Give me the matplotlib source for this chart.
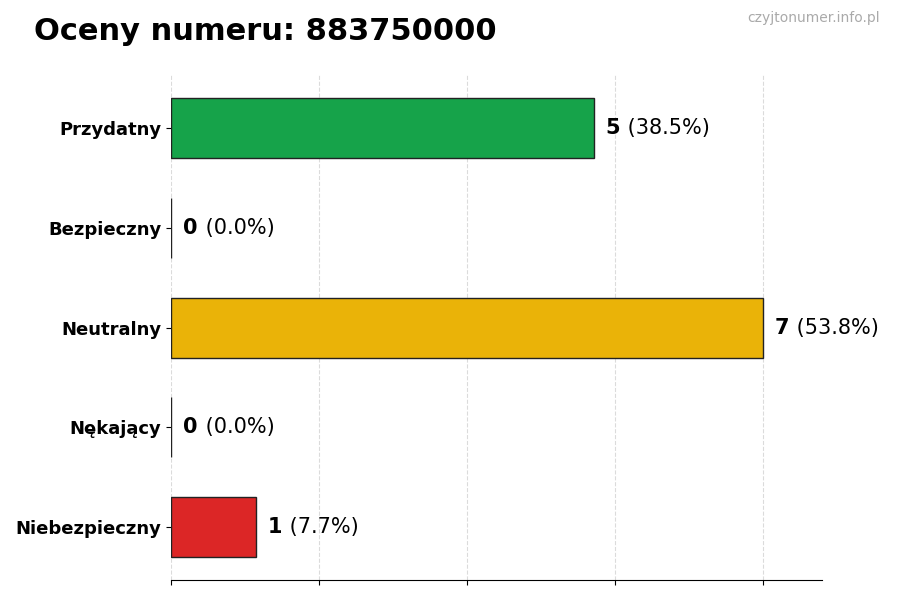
import matplotlib
matplotlib.use("Agg")
import matplotlib.pyplot as plt
import numpy as np

categories = ["Przydatny", "Bezpieczny", "Neutralny", "Nękający", "Niebezpieczny"]
counts = [5, 0, 7, 0, 1]
colors = ["#16a34a", "#2563eb", "#eab308", "#f97316", "#dc2626"]
title = "Oceny numeru: 883750000"
watermark = "czyjtonumer.info.pl"

total = sum(counts)
fig = plt.figure(figsize=(9, 6), dpi=100)
ax = fig.add_axes([0.19, 0.033, 0.723, 0.842])
y = np.arange(len(categories))
ax.barh(y, counts, height=0.6, color=colors, edgecolor="#222222", linewidth=1, zorder=3)
ax.invert_yaxis()
ax.set_yticks(y)
ax.set_yticklabels(categories, fontsize=13, fontweight="bold")
xmax = max(counts) * 1.1
ax.set_xlim(0, xmax)
ax.set_xticks(np.linspace(0, max(counts), 5))
ax.set_xticklabels([])
ax.grid(axis="x", linestyle="--", color="#cccccc", alpha=0.7, linewidth=0.8, zorder=0)
for s in ["top", "right", "left"]:
    ax.spines[s].set_visible(False)

fig.text(0.038, 0.948, title, fontsize=22, fontweight="bold", ha="left", va="center")
fig.text(0.978, 0.97, watermark, fontsize=10, color="#aaaaaa", ha="right", va="center")

fig.canvas.draw()
renderer = fig.canvas.get_renderer()
for i, c in enumerate(counts):
    pct = 100 * c / total if total else 0
    t = ax.text(c + 0.14, i, f"{c}", fontsize=15, fontweight="bold", va="center", ha="left")
    bb = t.get_window_extent(renderer)
    w_pts = bb.width * 72 / fig.dpi
    ax.annotate(f" ({pct:.1f}%)", xy=(c + 0.14, i), xytext=(w_pts + 1, 0), textcoords="offset points",
                fontsize=15, va="center", ha="left")

fig.savefig("out.png", dpi=100)
